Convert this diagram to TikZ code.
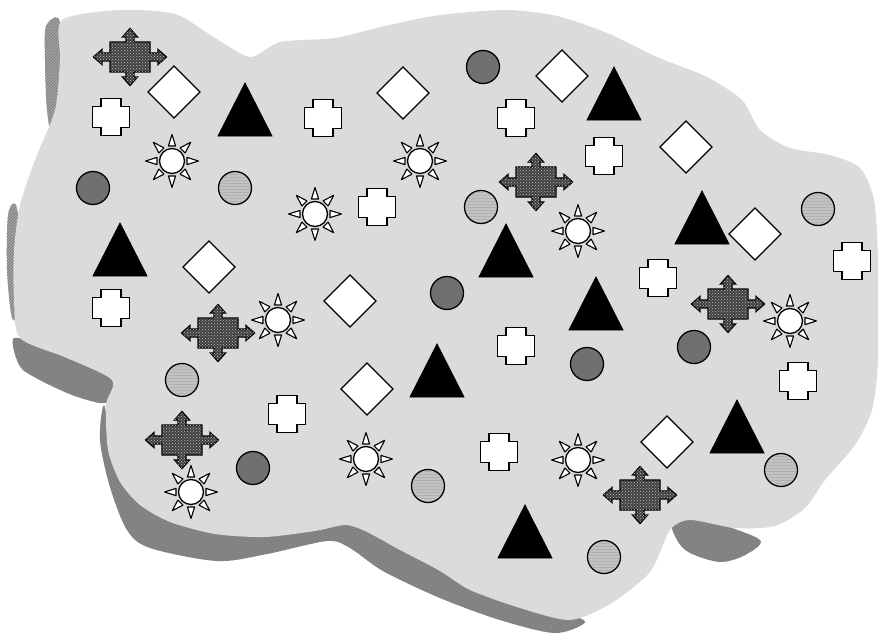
\documentclass[tikz,border=0pt]{standalone}
\usetikzlibrary{patterns}
\definecolor{blobgray}{gray}{0.86}
\definecolor{shadowgray}{gray}{0.55}
\definecolor{darkdisc}{gray}{0.44}
\definecolor{lightdisc}{gray}{0.76}
\tikzset{
  outl/.style={draw=black,line width=1.3pt,line join=miter},
  slabshadow/.style={fill=shadowgray,postaction={pattern=north east lines,pattern color=black!55}},
  faintshadow/.style={fill=black!35,postaction={pattern=north east lines,pattern color=black!55}},
  diam/.pic={\path[outl,fill=white] (0,-26) -- (26,0) -- (0,26) -- (-26,0) -- cycle;},
  tri/.pic={\path[draw=black,line width=0.8pt,fill=black] (0,-27) -- (27,26) -- (-27,26) -- cycle;},
  plusbox/.pic={\path[outl,fill=white]
     (-10,-18.5) -- (10,-18.5) -- (10,-10.5) -- (18.5,-10.5) -- (18.5,10.5) -- (10,10.5)
     -- (10,18.5) -- (-10,18.5) -- (-10,10.5) -- (-18.5,10.5) -- (-18.5,-10.5) -- (-10,-10.5) -- cycle;},
  darkdot/.pic={\path[outl,fill=darkdisc] (0,0) circle[radius=16.5];},
  lightdot/.pic={\path[outl,fill=lightdisc] (0,0) circle[radius=16.5];
     \path[pattern=horizontal lines,pattern color=black!30] (0,0) circle[radius=15];},
  sunshape/.pic={
     \foreach \a in {0,45,...,315}{
       \path[draw=black,line width=1.1pt,fill=white,line join=round]
         ([shift={(\a+90:3.6)}]\a:15) -- (\a:26.5) -- ([shift={(\a-90:3.6)}]\a:15) -- cycle;}
     \path[draw=black,line width=1.3pt,fill=white] (0,0) circle[radius=12.5];},
  compass/.pic={
     \path[draw=black,line width=1.3pt,fill=black!75,line join=miter,
       postaction={pattern=crosshatch dots,pattern color=black!25}]
       (-20,-15) -- (-4,-15) -- (-4,-20) -- (-7.5,-20) -- (0,-28.5) -- (7.5,-20) -- (4,-20) -- (4,-15)
       -- (20,-15) -- (20,-4) -- (28,-4) -- (28,-7.5) -- (36.5,0) -- (28,7.5) -- (28,4) -- (20,4)
       -- (20,15) -- (4,15) -- (4,20) -- (7.5,20) -- (0,28.5) -- (-7.5,20) -- (-4,20) -- (-4,15)
       -- (-20,15) -- (-20,4) -- (-28,4) -- (-28,7.5) -- (-36.5,0) -- (-28,-7.5) -- (-28,-4) -- (-20,-4) -- cycle;}
}
\begin{document}
\begin{tikzpicture}[x=1pt,y=-1pt]
\useasboundingbox (0,0) rectangle (878,634);
\fill[white] (0,0) rectangle (878,634);
% shadows (thickness of the slab)
\path[faintshadow]
  plot[smooth cycle,tension=0.5] coordinates {(46,26) (60,22) (62,100) (54,145) (47,110) (45,60)};
\path[faintshadow]
  plot[smooth cycle,tension=0.5] coordinates {(8,215) (16,205) (22,250) (20,310) (12,318) (7,270)};
\path[slabshadow]
  plot[smooth cycle,tension=0.4] coordinates {(14,338) (60,352) (112,374) (117,398) (100,403) (67,393) (22,369)};
\path[slabshadow]
  plot[smooth cycle,tension=0.5] coordinates {(104,405) (100,440) (110,487) (127,530) (150,548) (217,561)
   (267,554) (327,541) (350,548) (383,571) (440,598) (500,620) (555,633) (585,622)
   (560,612) (500,598) (440,568) (400,546) (365,528) (345,522) (315,528) (265,534) (215,531)
   (172,519) (143,500) (124,478) (112,446)};
\path[slabshadow]
  plot[smooth cycle,tension=0.5] coordinates {(672,518) (712,522) (760,540) (745,555) (720,562) (690,553) (677,540)};
% slab
\path[fill=blobgray]
  plot[smooth cycle,tension=0.45] coordinates {(62,20) (120,10) (175,14) (212,36) (250,57) (280,42)
   (335,38) (385,26) (440,15) (507,10) (557,16) (607,33) (657,57) (707,77) (742,100) (760,130)
   (790,148) (830,155) (860,168) (874,200) (878,260) (878,360) (872,410) (855,445) (825,480)
   (805,508) (775,526) (735,528) (690,520) (670,530) (650,572) (610,604) (570,620) (520,608)
   (470,590) (440,571) (400,550) (365,531) (345,525) (315,531) (265,537) (215,534) (170,522)
   (140,505) (120,482) (108,450) (106,405) (112,380) (67,358) (20,338) (14,300) (14,250)
   (20,205) (35,160) (55,110) (60,60)};
% diamonds
\foreach \x/\y in {174/92, 403/93, 562/76, 686/147, 209/267, 350/301, 755/234, 367/389, 667/442}
  \pic at (\x,\y) {diam};
% triangles
\foreach \x/\y in {245/110, 614/94, 120/250, 506/251, 702/218, 596/304, 437/371, 737/427, 525/532}
  \pic at (\x,\y) {tri};
% crosses
\foreach \x/\y in {111/117, 323/118, 516/118, 604/156, 377/207, 111/308, 852/261, 658/278,
   516/346, 798/381, 287/414, 499/452}
  \pic at (\x,\y) {plusbox};
% dark discs
\foreach \x/\y in {483/67, 93/188, 447/293, 587/364, 694/347, 253/468}
  \pic at (\x,\y) {darkdot};
% light discs
\foreach \x/\y in {235/188, 481/207, 818/209, 182/380, 428/486, 781/470, 604/557}
  \pic at (\x,\y) {lightdot};
% suns
\foreach \x/\y in {172/161, 420/161, 315/214, 578/231, 278/320, 790/321, 366/459, 578/460, 191/492}
  \pic at (\x,\y) {sunshape};
% arrow crosses
\foreach \x/\y in {130/57, 536/182, 218/333, 728/304, 182/440, 640/495}
  \pic at (\x,\y) {compass};
\end{tikzpicture}
\end{document}
